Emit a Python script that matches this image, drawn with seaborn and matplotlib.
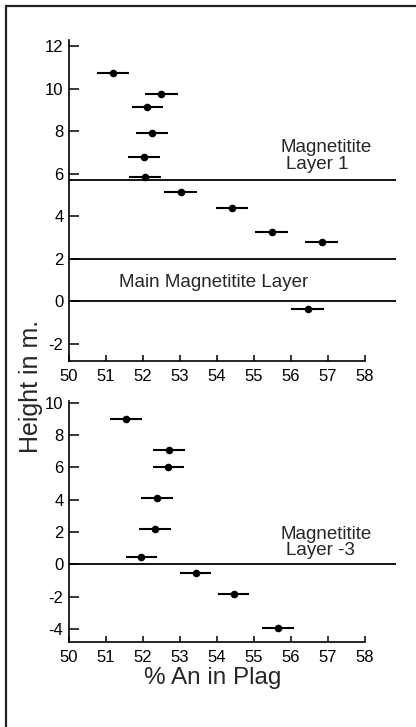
import numpy as np
import pandas as pd
import matplotlib
matplotlib.use("Agg")
import matplotlib.pyplot as plt
from matplotlib.lines import Line2D
import seaborn as sns

# ---- data ----
upper_an = [51.19, 52.50, 52.12, 52.25, 52.03, 52.05, 53.02, 54.41, 55.48, 56.83, 56.45]
upper_height = [10.75, 9.72, 9.13, 7.92, 6.78, 5.84, 5.14, 4.38, 3.28, 2.78, -0.38]
upper_err = [0.44, 0.44, 0.43, 0.43, 0.43, 0.43, 0.44, 0.44, 0.44, 0.44, 0.44]

lower_an = [51.54, 52.70, 52.68, 52.37, 52.33, 51.95, 53.42, 54.45, 55.64]
lower_height = [9.0, 7.1, 6.05, 4.08, 2.2, 0.45, -0.55, -1.85, -3.96]
lower_err = [0.42, 0.43, 0.42, 0.43, 0.43, 0.42, 0.43, 0.42, 0.43]

upper_layers = [5.72, 2.0, 0.0]
lower_layers = [0.0]

x_ticks = [50, 51, 52, 53, 54, 55, 56, 57, 58]
upper_yticks = [12, 10, 8, 6, 4, 2, 0, -2]
lower_yticks = [10, 8, 6, 4, 2, 0, -2, -4]

sns.set_style("ticks")
plt.rcParams["font.family"] = ["Liberation Sans", "DejaVu Sans"]

W, H = 416, 727
fig = plt.figure(figsize=(W / 100, H / 100), dpi=100)

def fx(px):
    return px / W

def fy(py):
    return 1 - py / H

ax1 = fig.add_axes([fx(69), fy(361), fx(396) - fx(69), fy(40) - fy(361)])
ax2 = fig.add_axes([fx(69), fy(642), fx(396) - fx(69), fy(401) - fy(642)])

def draw(ax, xs, ys, errs, layers, yticks, ylim):
    df = pd.DataFrame({"an": xs, "h": ys})
    ax.errorbar(xs, ys, xerr=errs, fmt="none", ecolor="black", elinewidth=1.5, capsize=0, zorder=2)
    sns.scatterplot(data=df, x="an", y="h", ax=ax, color="black", s=30, edgecolor="black",
                    linewidth=0, zorder=3, legend=False)
    for yl in layers:
        ax.axhline(yl, color="black", lw=1.3, zorder=1)
    ax.set_xlim(50, 58.84)
    ax.set_ylim(*ylim)
    ax.set_xticks(x_ticks)
    ax.set_xticklabels([str(t) for t in x_ticks])
    ax.set_yticks(yticks)
    ax.set_yticklabels([str(t) for t in yticks])
    ax.spines["top"].set_visible(False)
    ax.spines["right"].set_visible(False)
    ax.spines["bottom"].set_bounds(50, 58)
    for s in ["left", "bottom"]:
        ax.spines[s].set_linewidth(1.2)
        ax.spines[s].set_color("black")
    ax.tick_params(axis="y", direction="in", length=7.5, width=1.1, pad=4, labelsize=12, colors="black")
    ax.tick_params(axis="x", direction="in", length=4, width=1.1, pad=6, labelsize=12, colors="black")
    ax.set_xlabel("")
    ax.set_ylabel("")
    ax.set_facecolor("white")

draw(ax1, upper_an, upper_height, upper_err, upper_layers, upper_yticks, (-2.8, 12.28))
draw(ax2, lower_an, lower_height, lower_err, lower_layers, lower_yticks, (-4.8, 10.1))

ax1.text(56.95, 7.21, "Magnetitite", ha="center", va="center", fontsize=13.5)
ax1.text(56.70, 6.41, "Layer 1", ha="center", va="center", fontsize=13.5)
ax1.text(53.92, 0.87, "Main Magnetitite Layer", ha="center", va="center", fontsize=13.5)

ax2.text(56.95, 1.85, "Magnetitite", ha="center", va="center", fontsize=13.5)
ax2.text(56.81, 0.88, "Layer -3", ha="center", va="center", fontsize=13.5)

fig.text(fx(31), fy(386), "Height in m.", rotation=90, ha="center", va="center", fontsize=18)
fig.text(fx(213), fy(678), "% An in Plag", ha="center", va="center", fontsize=17.5)

# partial frame (top and left edges)
fig.add_artist(Line2D([fx(6), 1.0], [fy(6), fy(6)], transform=fig.transFigure, color="#222222", lw=1.6))
fig.add_artist(Line2D([fx(6), fx(6)], [fy(6), 0.0], transform=fig.transFigure, color="#222222", lw=1.6))

fig.savefig("out.png", dpi=100, facecolor="white")
